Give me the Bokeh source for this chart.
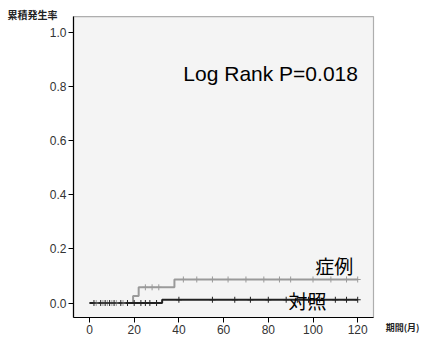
from bokeh.plotting import figure
from bokeh.models import Label, FixedTicker, CustomJSTickFormatter, BoxAnnotation
from bokeh.embed import file_html
from bokeh.resources import INLINE

# Kaplan-Meier step data (time in months, cumulative incidence)
case_t = [0, 19.5, 22, 38, 120]
case_s = [0, 0.026, 0.058, 0.087, 0.087]
ctrl_t = [0, 32.5, 120]
ctrl_s = [0, 0.012, 0.012]

# censoring marks
case_cens_t = [3, 6, 8, 10, 12, 15, 25, 28, 31, 42, 48, 55, 62, 70, 78, 85, 90, 100, 108, 115, 120]
case_cens_s = [0, 0, 0, 0, 0, 0, 0.058, 0.058, 0.058] + [0.087] * 12
ctrl_cens_t = [2, 5, 7, 9, 11, 14, 17, 20, 23, 25, 27, 30, 40, 55, 65, 72, 80, 88, 93, 98, 103, 110, 115, 120]
ctrl_cens_s = [0] * 12 + [0.012] * 12

x_ticks = [0, 20, 40, 60, 80, 100, 120]
y_ticks = [0.0, 0.2, 0.4, 0.6, 0.8, 1.0]

# visible plot box (data units)
X0, X1 = -7.16, 127.07
Y0, Y1 = -0.0536, 1.059

p = figure(width=423, height=337, x_range=(-39.82, 149.44), y_range=(-0.1275, 1.1183),
           output_backend="svg", toolbar_location=None,
           min_border=0, min_border_left=0, min_border_right=0, min_border_top=0, min_border_bottom=0)
p.background_fill_color = "white"
p.border_fill_color = "white"
p.outline_line_color = None
p.xgrid.visible = False
p.ygrid.visible = False

p.add_layout(BoxAnnotation(left=X0, right=X1, bottom=Y0, top=Y1, fill_color="#f4f4f4",
                           fill_alpha=1, line_color="black", line_width=1.2, level="underlay"))

for ax in (p.xaxis, p.yaxis):
    ax.axis_line_color = "black"
    ax.axis_line_width = 1.2
    ax.major_tick_line_color = "black"
    ax.minor_tick_line_color = None
    ax.major_tick_in = 0
    ax.major_tick_out = 5
    ax.major_label_text_font = "Liberation Sans"
    ax.major_label_text_font_size = "12px"
    ax.major_label_text_color = "#333333"
    ax.major_label_standoff = 2

p.xaxis.fixed_location = Y0
p.xaxis.bounds = (X0, X1)
p.yaxis.fixed_location = X0
p.yaxis.bounds = (Y0, Y1)
p.xaxis.ticker = FixedTicker(ticks=x_ticks)
p.yaxis.ticker = FixedTicker(ticks=y_ticks)
p.yaxis.formatter = CustomJSTickFormatter(code="return tick.toFixed(1);")

p.step(case_t, case_s, mode="after", line_color="#9a9a9a", line_width=2)
p.step(ctrl_t, ctrl_s, mode="after", line_color="#222222", line_width=2)
p.scatter(case_cens_t, case_cens_s, marker="cross", size=6, line_color="#9a9a9a", line_width=1)
p.scatter(ctrl_cens_t, ctrl_cens_s, marker="cross", size=6, line_color="#222222", line_width=1)

p.add_layout(Label(x=42, y=0.847, text="Log Rank P=0.018", text_font="Liberation Sans",
                   text_font_size="21px", text_color="black", text_baseline="alphabetic"))
p.add_layout(Label(x=109.5, y=0.14, text="症例", text_font="Noto Sans CJK JP",
                   text_font_size="19px", text_color="black", text_align="center", text_baseline="middle"))
p.add_layout(Label(x=97.5, y=0.008, text="対照", text_font="Noto Sans CJK JP",
                   text_font_size="19px", text_color="black", text_align="center", text_baseline="middle"))
p.add_layout(Label(x=-36.7, y=1.068, text="累積発生率",
                   text_font="Noto Sans CJK JP", text_font_size="10px", text_font_style="bold",
                   text_color="#222222", text_baseline="middle"))
p.add_layout(Label(x=132.5, y=-0.09, text="期間(月)",
                   text_font="Noto Sans CJK JP", text_font_size="9px", text_font_style="bold",
                   text_color="#222222", text_baseline="middle"))

open("out.html", "w").write(file_html(p, INLINE))
